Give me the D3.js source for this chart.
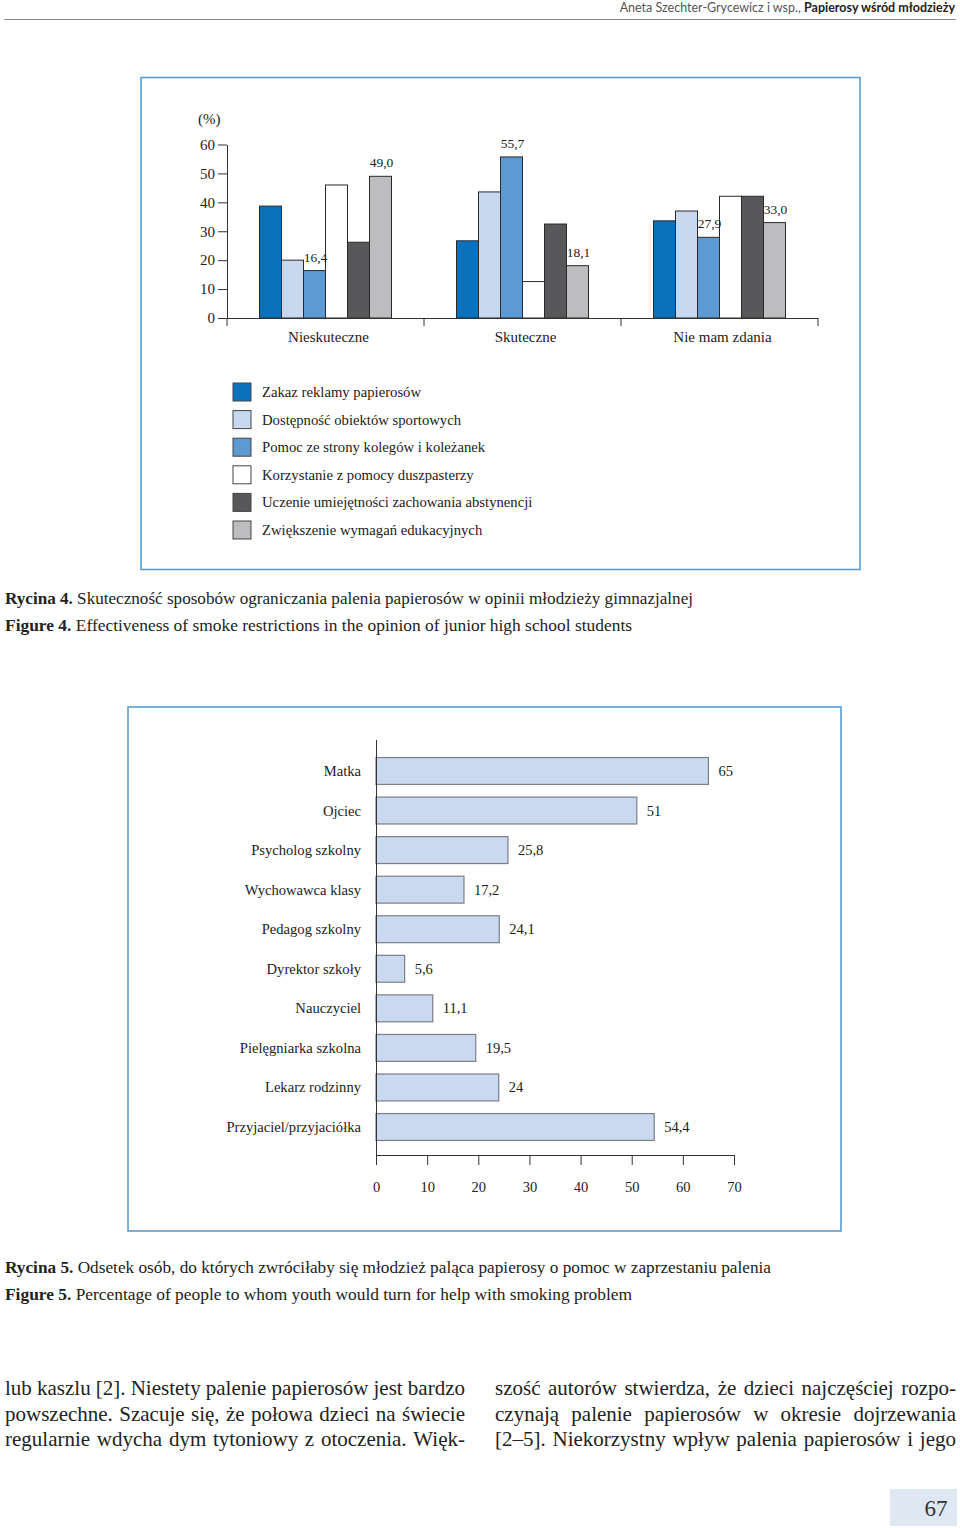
<!DOCTYPE html>
<html><head><meta charset="utf-8">
<script src="https://cdn.jsdelivr.net/npm/d3@7/dist/d3.min.js"></script>
<style>body{margin:0;background:#fff}svg{display:block}</style>
</head><body>
<svg id="page" width="960" height="1528"></svg>
<script>
// ---------- DATA ----------
const groups = ["Nieskuteczne", "Skuteczne", "Nie mam zdania"];
const series = [
  "Zakaz reklamy papierosów",
  "Dostępność obiektów sportowych",
  "Pomoc ze strony kolegów i koleżanek",
  "Korzystanie z pomocy duszpasterzy",
  "Uczenie umiejętności zachowania abstynencji",
  "Zwiększenie wymagań edukacyjnych"
];
const valuesNieskuteczne = [38.7, 20.0, 16.4, 46.0, 26.2, 49.0];
const valuesSkuteczne    = [26.7, 43.6, 55.7, 12.6, 32.5, 18.1];
const valuesNieMamZdania = [33.6, 37.0, 27.9, 42.1, 42.1, 33.0];
const labelledSeries = [2, 5];
const yTicks1 = [0, 10, 20, 30, 40, 50, 60];

const persons = ["Matka", "Ojciec", "Psycholog szkolny", "Wychowawca klasy", "Pedagog szkolny",
  "Dyrektor szkoły", "Nauczyciel", "Pielęgniarka szkolna", "Lekarz rodzinny", "Przyjaciel/przyjaciółka"];
const personValues = [65, 51, 25.8, 17.2, 24.1, 5.6, 11.1, 19.5, 24, 54.4];
const xTicks2 = [0, 10, 20, 30, 40, 50, 60, 70];

const caption4 = ["Rycina 4.", " Skuteczność sposobów ograniczania palenia papierosów w opinii młodzieży gimnazjalnej"];
const caption4en = ["Figure 4.", " Effectiveness of smoke restrictions in the opinion of junior high school students"];
const caption5 = ["Rycina 5.", " Odsetek osób, do których zwróciłaby się młodzież paląca papierosy o pomoc w zaprzestaniu palenia"];
const caption5en = ["Figure 5.", " Percentage of people to whom youth would turn for help with smoking problem"];
const bodyLeft = ["lub kaszlu [2]. Niestety palenie papierosów jest bardzo",
  "powszechne. Szacuje się, że połowa dzieci na świecie",
  "regularnie wdycha dym tytoniowy z otoczenia. Więk-"];
const bodyRight = ["szość autorów stwierdza, że dzieci najczęściej rozpo-",
  "czynają palenie papierosów w okresie dojrzewania",
  "[2–5]. Niekorzystny wpływ palenia papierosów i jego"];
const headerAuthor = "Aneta Szechter-Grycewicz i wsp., ";
const headerTitle = "Papierosy wśród młodzieży";
const pageNumber = "67";

// ---------- STYLE ----------
const serif = "'Liberation Serif','Times New Roman',serif";
const colors = ["#0a72bd", "#c8d8ef", "#5d99d2", "#ffffff", "#58585a", "#bdbdbf"];
const frameColor = "#5096cf";
const fmt = v => d3.format(".1f")(v).replace(".", ",");
const fmt2 = v => (Number.isInteger(v) ? String(v) : d3.format(".1f")(v)).replace(".", ",");

const svg = d3.select("#page");

// ---------- HEADER ----------
const hdr = svg.append("text").attr("x", 955).attr("y", 12).attr("text-anchor", "end")
  .attr("font-family", "Lato,'Open Sans',sans-serif").attr("font-size", 12.5);
hdr.append("tspan").attr("fill", "#555").text(headerAuthor);
hdr.append("tspan").attr("fill", "#222").attr("font-weight", "bold").text(headerTitle);
svg.append("line").attr("x1", 4).attr("x2", 956).attr("y1", 19.5).attr("y2", 19.5)
  .attr("stroke", "#888").attr("stroke-width", 1);

// ---------- CHART 1 ----------
svg.append("rect").attr("x", 141).attr("y", 77.5).attr("width", 719).attr("height", 492)
  .attr("fill", "none").attr("stroke", frameColor).attr("stroke-width", 1.5);

const allGroups = [valuesNieskuteczne, valuesSkuteczne, valuesNieMamZdania];
const y1 = d3.scaleLinear().domain([0, 60]).range([318, 144.5]);
const x0 = d3.scaleBand().domain(groups).range([227, 818]);
const bw0 = x0.bandwidth();
const x1 = d3.scaleBand().domain(d3.range(series.length)).range([bw0 * 0.165, bw0 * 0.835]);

const g1 = svg.append("g");
groups.forEach((gname, gi) => {
  const gg = g1.append("g").attr("transform", `translate(${x0(gname)},0)`);
  gg.selectAll("rect").data(allGroups[gi]).join("rect")
    .attr("x", (d, i) => x1(i)).attr("width", x1.bandwidth())
    .attr("y", d => y1(d)).attr("height", d => y1(0) - y1(d))
    .attr("fill", (d, i) => colors[i]).attr("stroke", "#2a2a2a").attr("stroke-width", 1);
  gg.selectAll("text").data(labelledSeries).join("text")
    .attr("x", i => x1(i) + x1.bandwidth() / 2 + 1).attr("y", i => y1(allGroups[gi][i]) - 9)
    .attr("text-anchor", "middle").attr("font-family", serif).attr("font-size", 13.5).attr("fill", "#222")
    .text(i => fmt(allGroups[gi][i]));
});

const yAx1 = svg.append("g").attr("transform", "translate(227,0)")
  .call(d3.axisLeft(y1).tickValues(yTicks1).tickSize(9).tickSizeOuter(0).tickPadding(3));
yAx1.selectAll("text").attr("font-family", serif).attr("font-size", 15).attr("fill", "#222");
yAx1.selectAll("line,path").attr("stroke", "#333");
svg.append("text").attr("x", 198).attr("y", 124).attr("font-family", serif).attr("font-size", 15)
  .attr("fill", "#222").text("(%)");

// x axis chart 1
const xb = groups.map(g => x0(g)).concat([x0.range()[1]]);
svg.append("line").attr("x1", 227).attr("x2", 818).attr("y1", 318.5).attr("y2", 318.5).attr("stroke", "#333");
svg.selectAll(".xt1").data(xb).join("line").attr("class", "xt1")
  .attr("x1", d => d).attr("x2", d => d).attr("y1", 318).attr("y2", 326).attr("stroke", "#333");
svg.selectAll(".xl1").data(groups).join("text").attr("class", "xl1")
  .attr("x", d => x0(d) + bw0 / 2 + 3).attr("y", 342).attr("text-anchor", "middle")
  .attr("font-family", serif).attr("font-size", 15).attr("fill", "#222").text(d => d);

// legend
const leg = svg.append("g");
series.forEach((s, i) => {
  const cy = 392 + i * 27.6;
  leg.append("rect").attr("x", 233).attr("y", cy - 9).attr("width", 18).attr("height", 18)
    .attr("fill", colors[i]).attr("stroke", "#444").attr("stroke-width", 1);
  leg.append("text").attr("x", 262).attr("y", cy + 5).attr("font-family", serif).attr("font-size", 14.7)
    .attr("fill", "#222").text(s);
});

// ---------- captions ----------
function caption(parts, y, width) {
  const t = svg.append("text").attr("x", 5).attr("y", y).attr("font-family", serif)
    .attr("font-size", 16.5).attr("fill", "#222");
  t.append("tspan").attr("font-weight", "bold").text(parts[0]);
  t.append("tspan").text(parts[1]);
  t.attr("textLength", width).attr("lengthAdjust", "spacingAndGlyphs");
}
caption(caption4, 604, 688);
caption(caption4en, 631, 627);

// ---------- CHART 2 ----------
svg.append("rect").attr("x", 128).attr("y", 707).attr("width", 713).attr("height", 524)
  .attr("fill", "none").attr("stroke", frameColor).attr("stroke-width", 1.5);
const x2 = d3.scaleLinear().domain([0, 70]).range([376, 734]);
const y2 = d3.scaleBand().domain(persons).range([751.2, 1146.8]).paddingInner(0.32).paddingOuter(0.16);

svg.selectAll(".bar2").data(personValues).join("rect").attr("class", "bar2")
  .attr("x", x2(0)).attr("y", (d, i) => y2(persons[i]))
  .attr("width", d => x2(d) - x2(0)).attr("height", y2.bandwidth())
  .attr("fill", "#cad9f0").attr("stroke", "#7a7f88").attr("stroke-width", 1.2);
svg.selectAll(".vl2").data(personValues).join("text").attr("class", "vl2")
  .attr("x", d => x2(d) + 10).attr("y", (d, i) => y2(persons[i]) + y2.bandwidth() / 2 + 5)
  .attr("font-family", serif).attr("font-size", 14.5).attr("fill", "#222").text(d => fmt2(d));
svg.selectAll(".cl2").data(persons).join("text").attr("class", "cl2")
  .attr("x", 361).attr("y", d => y2(d) + y2.bandwidth() / 2 + 5).attr("text-anchor", "end")
  .attr("font-family", serif).attr("font-size", 14.6).attr("fill", "#222").text(d => d);

svg.append("line").attr("x1", 376.5).attr("x2", 376.5).attr("y1", 740).attr("y2", 1155).attr("stroke", "#333");
const xAx2 = svg.append("g").attr("transform", "translate(0,1155)")
  .call(d3.axisBottom(x2).tickValues(xTicks2).tickSize(10).tickSizeOuter(0).tickPadding(17));
xAx2.selectAll("text").attr("font-family", serif).attr("font-size", 14.5).attr("fill", "#222");
xAx2.selectAll("line,path").attr("stroke", "#333");

caption(caption5, 1273, 766);
caption(caption5en, 1300, 627);

// ---------- body text (justified) ----------
function justify(line, x0, width, y) {
  const words = line.split(" ");
  const tmp = words.map(w => svg.append("text").attr("font-family", serif).attr("font-size", 21)
    .attr("fill", "#222").attr("y", y).text(w));
  const widths = tmp.map(t => t.node().getComputedTextLength());
  let gap = (width - d3.sum(widths)) / (words.length - 1);
  let scale = 1;
  if (gap < 3) { gap = 3; scale = (width - 3 * (words.length - 1)) / d3.sum(widths); }
  let cx = x0;
  tmp.forEach((t, i) => {
    const w = widths[i] * scale;
    t.attr("x", cx);
    if (scale !== 1) t.attr("textLength", w).attr("lengthAdjust", "spacingAndGlyphs");
    cx += w + gap;
  });
}
bodyLeft.forEach((l, i) => justify(l, 5, 460, 1395 + i * 25.5));
bodyRight.forEach((l, i) => justify(l, 495, 461, 1395 + i * 25.5));

// ---------- page number ----------
svg.append("rect").attr("x", 890).attr("y", 1489).attr("width", 67).attr("height", 37).attr("fill", "#dfe7f3");
svg.append("text").attr("x", 936).attr("y", 1516).attr("text-anchor", "middle").attr("font-family", serif)
  .attr("font-size", 23).attr("fill", "#333").text(pageNumber);
</script>
</body></html>
